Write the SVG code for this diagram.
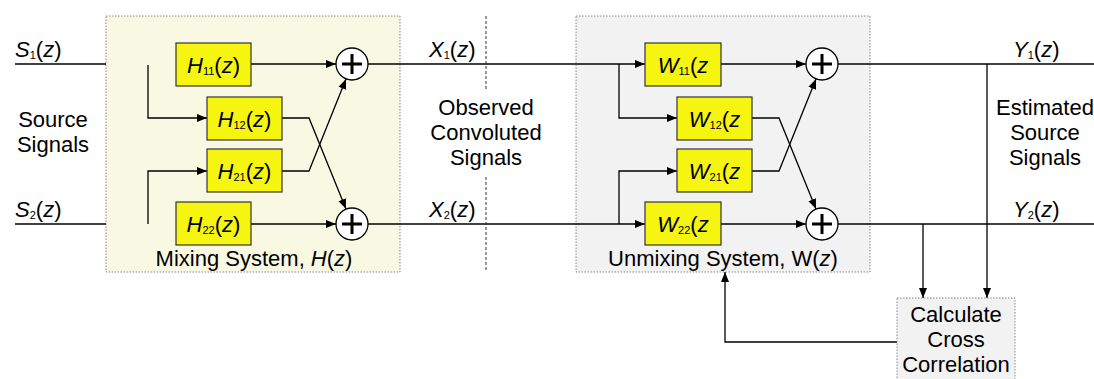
<svg xmlns="http://www.w3.org/2000/svg" width="1094" height="379" viewBox="0 0 1094 379">
<style>
text{font-family:"Liberation Sans",Arial,sans-serif;font-size:22px;fill:#000}
.i{font-style:italic}
.s{font-size:11px}
.c{text-anchor:middle}
.ln{fill:none;stroke:#000;stroke-width:1.3}
.blk{fill:#f5f50f;stroke:#333;stroke-width:1.2}
.sys{stroke:#888;stroke-width:1;stroke-dasharray:1.5 1.5}
.sum{fill:#fff;stroke:#000;stroke-width:1.3}
.plus{stroke:#000;stroke-width:3;fill:none}
.dash{stroke:#333;stroke-width:1;stroke-dasharray:3 2;fill:none}
</style>
<defs>
<marker id="ah" viewBox="0 0 10 10" refX="10" refY="5" markerWidth="10" markerHeight="10" markerUnits="userSpaceOnUse" orient="auto">
<path d="M0,1 L10,5 L0,9 Z" fill="#000"/>
</marker>
</defs>

<g id="mixing-system">
<rect x="106" y="16" width="294" height="256" fill="#f9f9e3" class="sys"/>
<text class="c" x="254" y="266">Mixing System, <tspan class="i">H</tspan>(<tspan class="i">z</tspan>)</text>
</g>
<g id="unmixing-system">
<rect x="576" y="16" width="294" height="256" fill="#f2f2f2" class="sys"/>
<text class="c" x="723" y="266">Unmixing System, W(<tspan class="i">z</tspan>)</text>
</g>

<g id="connectors">
<path class="ln" d="M15,64 H106"/>
<path class="ln" d="M15,224 H106"/>
<path class="ln" d="M148,65 V118 H207" marker-end="url(#ah)"/>
<path class="ln" d="M148,224 V171 H207" marker-end="url(#ah)"/>
<path class="ln" d="M251,64 H336" marker-end="url(#ah)"/>
<path class="ln" d="M251,224 H336" marker-end="url(#ah)"/>
<path class="ln" d="M282,118 H309 L346,209" marker-end="url(#ah)"/>
<path class="ln" d="M282,171 H309 L346,79" marker-end="url(#ah)"/>
<path class="ln" d="M368,64 H645" marker-end="url(#ah)"/>
<path class="ln" d="M368,224 H645" marker-end="url(#ah)"/>
<path class="ln" d="M619,64 V118 H677" marker-end="url(#ah)"/>
<path class="ln" d="M619,224 V171 H677" marker-end="url(#ah)"/>
<path class="ln" d="M721,64 H806" marker-end="url(#ah)"/>
<path class="ln" d="M721,224 H806" marker-end="url(#ah)"/>
<path class="ln" d="M752,118 H779 L816,209" marker-end="url(#ah)"/>
<path class="ln" d="M752,171 H779 L816,79" marker-end="url(#ah)"/>
<path class="ln" d="M838,64 H1094"/>
<path class="ln" d="M838,224 H1094"/>
<path class="ln" d="M987,64 V298" marker-end="url(#ah)"/>
<path class="ln" d="M923,224 V298" marker-end="url(#ah)"/>
<path class="ln" d="M897,342 H725 V272" marker-end="url(#ah)"/>
<path class="dash" d="M486,16 V90"/>
<path class="dash" d="M486,177 V272"/>
</g>

<g id="H11"><rect class="blk" x="176" y="43" width="75" height="43"/>
<text class="c" x="213.5" y="73"><tspan class="i">H</tspan><tspan class="s" dy="2">11</tspan><tspan dy="-2">(</tspan><tspan class="i">z</tspan>)</text></g>
<g id="H12"><rect class="blk" x="207" y="97" width="75" height="43"/>
<text class="c" x="244.5" y="127"><tspan class="i">H</tspan><tspan class="s" dy="2">12</tspan><tspan dy="-2">(</tspan><tspan class="i">z</tspan>)</text></g>
<g id="H21"><rect class="blk" x="207" y="149" width="75" height="43"/>
<text class="c" x="244.5" y="179"><tspan class="i">H</tspan><tspan class="s" dy="2">21</tspan><tspan dy="-2">(</tspan><tspan class="i">z</tspan>)</text></g>
<g id="H22"><rect class="blk" x="176" y="202" width="75" height="43"/>
<text class="c" x="213.5" y="232"><tspan class="i">H</tspan><tspan class="s" dy="2">22</tspan><tspan dy="-2">(</tspan><tspan class="i">z</tspan>)</text></g>

<g id="sum1"><circle class="sum" cx="352" cy="64" r="16"/><path class="plus" d="M342,64 H362 M352,54 V74"/></g>
<g id="sum2"><circle class="sum" cx="352" cy="224" r="16"/><path class="plus" d="M342,224 H362 M352,214 V234"/></g>

<g id="W11"><rect class="blk" x="645" y="43" width="76" height="43"/>
<text class="c" x="683" y="73"><tspan class="i">W</tspan><tspan class="s" dy="2">11</tspan><tspan dy="-2">(</tspan><tspan class="i">z</tspan></text></g>
<g id="W12"><rect class="blk" x="677" y="97" width="75" height="43"/>
<text class="c" x="714.5" y="127"><tspan class="i">W</tspan><tspan class="s" dy="2">12</tspan><tspan dy="-2">(</tspan><tspan class="i">z</tspan></text></g>
<g id="W21"><rect class="blk" x="677" y="149" width="75" height="43"/>
<text class="c" x="714.5" y="179"><tspan class="i">W</tspan><tspan class="s" dy="2">21</tspan><tspan dy="-2">(</tspan><tspan class="i">z</tspan></text></g>
<g id="W22"><rect class="blk" x="645" y="202" width="76" height="43"/>
<text class="c" x="683" y="232"><tspan class="i">W</tspan><tspan class="s" dy="2">22</tspan><tspan dy="-2">(</tspan><tspan class="i">z</tspan></text></g>

<g id="sum3"><circle class="sum" cx="822" cy="64" r="16"/><path class="plus" d="M812,64 H832 M822,54 V74"/></g>
<g id="sum4"><circle class="sum" cx="822" cy="224" r="16"/><path class="plus" d="M812,224 H832 M822,214 V234"/></g>

<g id="calc">
<rect x="897" y="298" width="118" height="90" fill="#f2f2f2" class="sys"/>
<text class="c" x="956" y="322">Calculate</text>
<text class="c" x="956" y="347">Cross</text>
<text class="c" x="956" y="372">Correlation</text>
</g>

<g id="labels">
<text x="15" y="57"><tspan class="i">S</tspan><tspan class="s" dy="2">1</tspan><tspan dy="-2">(</tspan><tspan class="i">z</tspan>)</text>
<text x="15" y="217"><tspan class="i">S</tspan><tspan class="s" dy="2">2</tspan><tspan dy="-2">(</tspan><tspan class="i">z</tspan>)</text>
<text class="c" x="53" y="127">Source</text>
<text class="c" x="53" y="152">Signals</text>
<text x="429" y="57"><tspan class="i">X</tspan><tspan class="s" dy="2">1</tspan><tspan dy="-2">(</tspan><tspan class="i">z</tspan>)</text>
<text x="429" y="217"><tspan class="i">X</tspan><tspan class="s" dy="2">2</tspan><tspan dy="-2">(</tspan><tspan class="i">z</tspan>)</text>
<text class="c" x="486" y="115">Observed</text>
<text class="c" x="486" y="140">Convoluted</text>
<text class="c" x="486" y="165">Signals</text>
<text x="1013" y="57"><tspan class="i">Y</tspan><tspan class="s" dy="2">1</tspan><tspan dy="-2">(</tspan><tspan class="i">z</tspan>)</text>
<text x="1013" y="217"><tspan class="i">Y</tspan><tspan class="s" dy="2">2</tspan><tspan dy="-2">(</tspan><tspan class="i">z</tspan>)</text>
<text class="c" x="1045" y="115">Estimated</text>
<text class="c" x="1045" y="140">Source</text>
<text class="c" x="1045" y="165">Signals</text>
</g>
</svg>
